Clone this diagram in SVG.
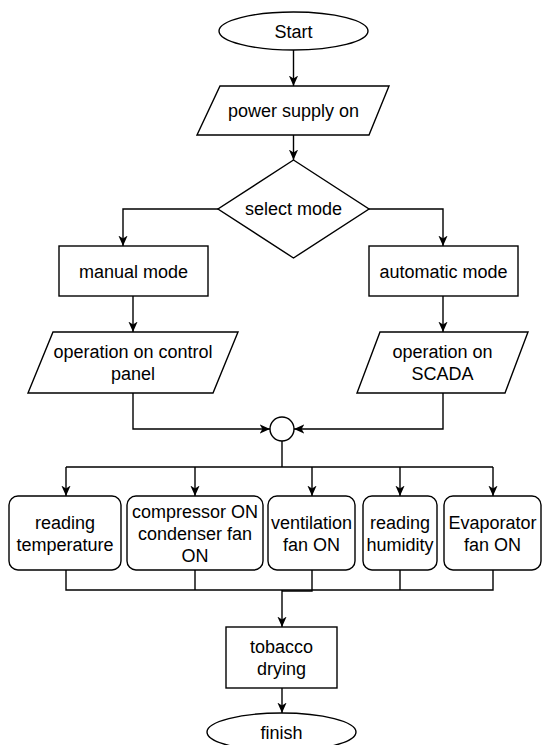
<svg xmlns="http://www.w3.org/2000/svg" width="542" height="745" viewBox="0 0 542 745">
  <style>
    .shape { fill: #ffffff; stroke: #000000; stroke-width: 1.4; }
    .edge { fill: none; stroke: #000000; stroke-width: 1.4; }
    .arr { marker-end: url(#arrow); }
    text { font-family: "Liberation Sans", Arial, sans-serif; font-size: 18px; fill: #000000; text-anchor: middle; }
  </style>
  <defs>
    <marker id="arrow" viewBox="0 0 10 10" refX="9.5" refY="5" markerWidth="11" markerHeight="11" markerUnits="userSpaceOnUse" orient="auto">
      <path d="M0,0.8 L9.5,5 L0,9.2 L2.6,5 Z" fill="#000000" stroke="none"/>
    </marker>
  </defs>
  <rect width="542" height="745" fill="#ffffff"/>

  <g id="connectors">
    <path class="edge arr" d="M293.5,50 L293.5,86"/>
    <path class="edge arr" d="M293.5,135 L293.5,160"/>
    <path class="edge arr" d="M218,209 L123,209 L123,246"/>
    <path class="edge arr" d="M369,209 L443,209 L443,246"/>
    <path class="edge arr" d="M133,296 L133,332"/>
    <path class="edge arr" d="M443,296 L443,332"/>
    <path class="edge arr" d="M133,393 L133,429 L270,429"/>
    <path class="edge arr" d="M443,393 L443,429 L294,429"/>
    <path class="edge" d="M282,441 L282,467 M66,467 L493,467"/>
    <path class="edge arr" d="M66,467 L66,496"/>
    <path class="edge arr" d="M195,467 L195,496"/>
    <path class="edge arr" d="M312,467 L312,496"/>
    <path class="edge arr" d="M400,467 L400,496"/>
    <path class="edge arr" d="M493,467 L493,496"/>
    <path class="edge" d="M66,570 L66,590 L493,590 L493,570 M195,570 L195,590 M400,570 L400,590"/>
    <path class="edge" d="M312,570 L312,591 L282,591"/>
    <path class="edge arr" d="M282,590 L282,627"/>
    <path class="edge arr" d="M282,688 L282,713"/>
  </g>

  <g id="start">
    <ellipse class="shape" cx="293.5" cy="31" rx="74.5" ry="19"/>
    <text x="293.5" y="38">Start</text>
  </g>
  <g id="power-supply">
    <polygon class="shape" points="220,86 389,86 369,135 197,135"/>
    <text x="293.5" y="117">power supply on</text>
  </g>
  <g id="select-mode">
    <polygon class="shape" points="293.5,160 369,209 293.5,258 218,209"/>
    <text x="293.5" y="215">select mode</text>
  </g>
  <g id="manual-mode">
    <rect class="shape" x="59" y="246" width="149" height="50"/>
    <text x="133.5" y="277.5">manual mode</text>
  </g>
  <g id="automatic-mode">
    <rect class="shape" x="369" y="246" width="149" height="50"/>
    <text x="443.5" y="277.5">automatic mode</text>
  </g>
  <g id="control-panel">
    <polygon class="shape" points="53,332 238,332 213,393 28,393"/>
    <text x="133" y="358">operation on control</text>
    <text x="133" y="380">panel</text>
  </g>
  <g id="scada">
    <polygon class="shape" points="380,332 528,332 505,393 357,393"/>
    <text x="442.5" y="358">operation on</text>
    <text x="442.5" y="380">SCADA</text>
  </g>
  <g id="junction">
    <circle class="shape" cx="282" cy="429" r="12"/>
  </g>
  <g id="reading-temperature">
    <rect class="shape" x="9" y="496" width="112" height="74" rx="9" ry="9"/>
    <text x="65" y="529">reading</text>
    <text x="65" y="551">temperature</text>
  </g>
  <g id="compressor">
    <rect class="shape" x="127" y="496" width="136" height="74" rx="9" ry="9"/>
    <text x="195" y="518">compressor ON</text>
    <text x="195" y="540">condenser fan</text>
    <text x="195" y="562">ON</text>
  </g>
  <g id="ventilation">
    <rect class="shape" x="268" y="496" width="87" height="74" rx="9" ry="9"/>
    <text x="311.5" y="529">ventilation</text>
    <text x="311.5" y="551">fan ON</text>
  </g>
  <g id="reading-humidity">
    <rect class="shape" x="363" y="496" width="74" height="74" rx="9" ry="9"/>
    <text x="400" y="529">reading</text>
    <text x="400" y="551">humidity</text>
  </g>
  <g id="evaporator">
    <rect class="shape" x="444" y="496" width="97" height="74" rx="9" ry="9"/>
    <text x="492.5" y="529">Evaporator</text>
    <text x="492.5" y="551">fan ON</text>
  </g>
  <g id="tobacco-drying">
    <rect class="shape" x="226" y="627" width="111" height="61"/>
    <text x="281.5" y="653">tobacco</text>
    <text x="281.5" y="675">drying</text>
  </g>
  <g id="finish">
    <ellipse class="shape" cx="281.5" cy="732" rx="74.5" ry="19"/>
    <text x="281.5" y="738.5">finish</text>
  </g>
</svg>
